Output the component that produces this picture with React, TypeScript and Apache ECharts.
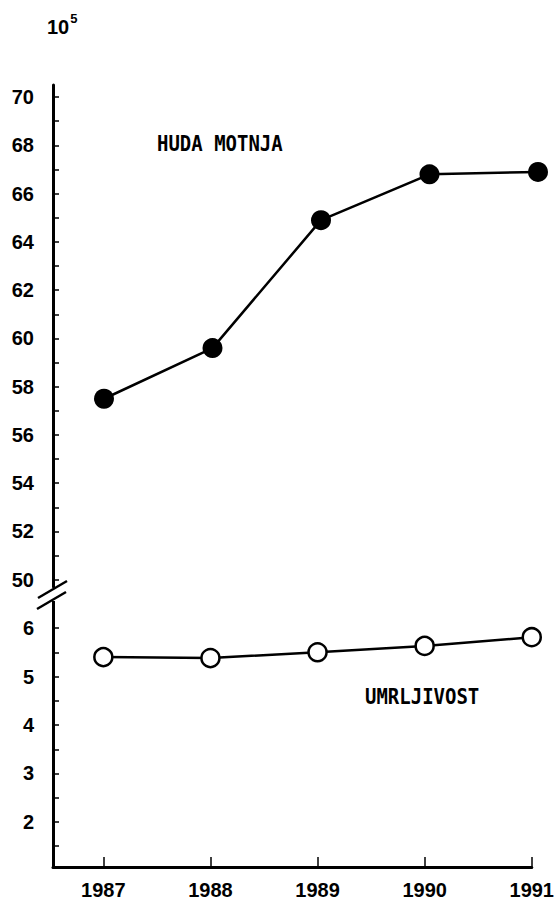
import React, { useEffect, useRef } from "react";
import * as echarts from "echarts";

const years = [1987, 1988, 1989, 1990, 1991];
const hudaMotnja = [57.5, 59.6, 64.9, 66.8, 66.9];
const umrljivost = [5.4, 5.38, 5.5, 5.63, 5.81];
const upperTicks = [50, 51, 52, 53, 54, 55, 56, 57, 58, 59, 60, 61, 62, 63, 64, 65, 66, 67, 68, 69, 70];
const upperLabels = [50, 52, 54, 56, 58, 60, 62, 64, 66, 68, 70];
const lowerTicks = [1.5, 2, 2.5, 3, 3.5, 4, 4.5, 5, 5.5, 6];
const lowerLabels = [2, 3, 4, 5, 6];
const seriesNames = ["HUDA MOTNJA", "UMRLJIVOST"];
const unitBase = "10";
const unitExp = "5";

const FONT = "DejaVu Sans Mono";
const NUMFONT = "Liberation Sans";

export default function App() {
  const ref = useRef<HTMLDivElement>(null);
  useEffect(() => {
    if (!ref.current) return;
    const chart = echarts.init(ref.current, null, { renderer: "svg" });
    const labelStyle = {
      color: "#000",
      fontFamily: NUMFONT,
      fontSize: 20,
      fontWeight: "bold" as const,
    };
    const xCommon = {
      type: "value" as const,
      min: 1986.53,
      max: 1991,
      splitLine: { show: false },
    };
    chart.setOption({
      animation: false,
      backgroundColor: "#fff",
      grid: [
        { left: 53, right: 19, top: 85, height: 502 },
        { left: 53, right: 19, top: 601, height: 266 },
      ],
      xAxis: [
        {
          ...xCommon,
          gridIndex: 0,
          show: false,
        },
        {
          ...xCommon,
          gridIndex: 1,
          axisLine: { show: true, lineStyle: { color: "#000", width: 3 } },
          axisTick: {
            show: true,
            inside: true,
            length: 10,
            customValues: years,
            lineStyle: { color: "#000", width: 1.5 },
          },
          axisLabel: {
            ...labelStyle,
            customValues: years,
            margin: 13,
            formatter: (v: number) => String(v),
          },
        },
      ],
      yAxis: [
        {
          type: "value",
          gridIndex: 0,
          min: 49.7,
          max: 70.5,
          splitLine: { show: false },
          axisLine: { show: true, lineStyle: { color: "#000", width: 3 } },
          axisTick: {
            show: true,
            inside: true,
            length: 6,
            customValues: upperTicks,
            lineStyle: { color: "#000", width: 1.5 },
          },
          axisLabel: {
            ...labelStyle,
            customValues: upperLabels,
            margin: 19,
            formatter: (v: number) => String(v),
          },
        },
        {
          type: "value",
          gridIndex: 1,
          min: 1.072,
          max: 6.557,
          splitLine: { show: false },
          axisLine: { show: true, lineStyle: { color: "#000", width: 3 } },
          axisTick: {
            show: true,
            inside: true,
            length: 6,
            customValues: lowerTicks,
            lineStyle: { color: "#000", width: 1.5 },
          },
          axisLabel: {
            ...labelStyle,
            customValues: lowerLabels,
            margin: 19,
            formatter: (v: number) => String(v),
          },
        },
      ],
      series: [
        {
          name: seriesNames[0],
          type: "line",
          xAxisIndex: 0,
          yAxisIndex: 0,
          data: years.map((y, i) => [y, hudaMotnja[i]]),
          symbol: "circle",
          symbolSize: 20,
          lineStyle: { color: "#000", width: 2.5 },
          itemStyle: { color: "#000" },
        },
        {
          name: seriesNames[1],
          type: "line",
          xAxisIndex: 1,
          yAxisIndex: 1,
          data: years.map((y, i) => [y, umrljivost[i]]),
          symbol: "circle",
          symbolSize: 18,
          lineStyle: { color: "#000", width: 2.5 },
          itemStyle: { color: "#fff", borderColor: "#000", borderWidth: 2.5 },
        },
      ],
      graphic: [
        {
          type: "rect",
          shape: { x: 45, y: 588, width: 16, height: 13 },
          style: { fill: "#fff" },
          z: 100,
        },
        {
          type: "line",
          shape: { x1: 38, y1: 598, x2: 67, y2: 581 },
          style: { stroke: "#000", lineWidth: 2.5 },
          z: 101,
        },
        {
          type: "line",
          shape: { x1: 37, y1: 609, x2: 66, y2: 592 },
          style: { stroke: "#000", lineWidth: 2.5 },
          z: 101,
        },
        {
          type: "text",
          x: 157,
          y: 144,
          scaleY: 1.12,
          style: {
            text: seriesNames[0],
            fill: "#000",
            font: `bold 19px "${FONT}"`,
            verticalAlign: "middle",
          },
        },
        {
          type: "text",
          x: 365,
          y: 697,
          scaleY: 1.12,
          style: {
            text: seriesNames[1],
            fill: "#000",
            font: `bold 19px "${FONT}"`,
            verticalAlign: "middle",
          },
        },
        {
          type: "text",
          left: 47,
          top: 12,
          style: {
            text: `{b|${unitBase}}{e|${unitExp}}`,
            rich: {
              b: { fontFamily: NUMFONT, fontWeight: "bold", fontSize: 20, fill: "#000", color: "#000", verticalAlign: "bottom" },
              e: { fontFamily: NUMFONT, fontWeight: "bold", fontSize: 13, fill: "#000", color: "#000", verticalAlign: "top", padding: [0, 0, 12, 1] },
            },
          },
        },
      ],
    });
    return () => chart.dispose();
  }, []);
  return (
    <div
      ref={ref}
      style={{ position: "fixed", left: 0, top: 0, width: 557, height: 902, background: "#fff" }}
    />
  );
}
